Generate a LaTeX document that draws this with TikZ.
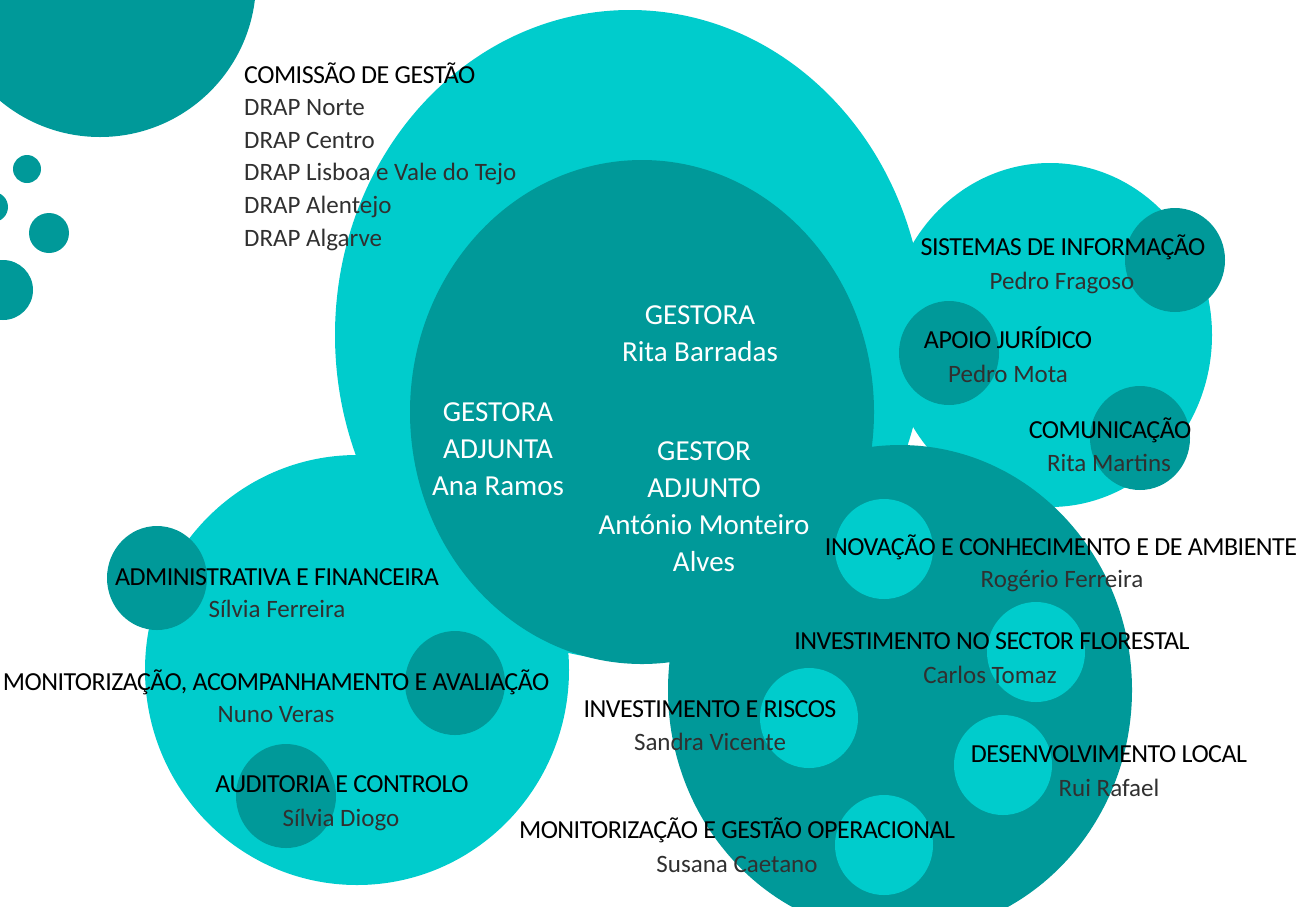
\documentclass[tikz,border=0pt]{standalone}
\usepackage{fontspec}
\setmainfont{Carlito}
\newfontfamily\headfont{Carlito}[LetterSpace=-2]
\usetikzlibrary{positioning}

\definecolor{tealdark}{HTML}{009999}
\definecolor{teallight}{HTML}{00CCCC}
\definecolor{namegray}{HTML}{303030}

\tikzset{
  head/.style={font=\headfont\fontsize{26}{30}\selectfont, text=black, inner sep=0pt, anchor=base},
  person/.style={font=\fontsize{25}{30}\selectfont, text=namegray, inner sep=0pt, anchor=base},
  boss/.style={font=\fontsize{29}{37}\selectfont, text=white, align=center, inner sep=0pt},
}

\begin{document}
\begin{tikzpicture}[x=1pt,y=-1pt]

    \useasboundingbox (0,0) rectangle (1306,906);
    \clip (0,0) rectangle (1306,906);

    % Bolhas decorativas
    \fill[tealdark] (100,-19) ellipse (156pt and 156pt);
    \foreach \cx/\cy/\r in {27/169/14, -7/207/15, 49/233/20, 3/290/30}
        \fill[tealdark] (\cx,\cy) circle (\r pt);

    % Bolhas principais
    \fill[teallight] (630,335) ellipse (295pt and 325pt);
    \fill[teallight] (1050,335) ellipse (162pt and 172pt);
    \fill[teallight] (357,670) ellipse (212pt and 215pt);
    \fill[tealdark] (642,412) ellipse (232pt and 252pt);
    \fill[tealdark] (900,690) ellipse (232pt and 245pt);

    % Bolhas pequenas
    \foreach \cx/\cy in {1175/260, 949/353, 1140/438, 157/578, 455/683, 286/796}
        \fill[tealdark] (\cx,\cy) ellipse (50pt and 52pt);
    \foreach \cx/\cy in {884/549, 1036/652, 809/718, 1003/765, 884/845}
        \fill[teallight] (\cx,\cy) ellipse (49pt and 50pt);

    % Comissao de gestao
    \node[head, anchor=base west] (comissao) at (244,83) {COMISSÃO DE GESTÃO};
    \foreach \reg [count=\i] in {Norte,Centro,Lisboa e Vale do Tejo,Alentejo,Algarve}
        \node[person, anchor=base west] (drap\i) at (244,{83+32.6*\i}) {DRAP \reg};

    % Gestao
    \node[boss] (gestora) at (700,334) {GESTORA\\Rita Barradas};
    \node[boss] (adjunta) at (498,449) {GESTORA\\ADJUNTA\\Ana Ramos};
    \node[boss] (adjunto) at (704,507) {GESTOR\\ADJUNTO\\António Monteiro\\Alves};

    % Unidades
    \node[head] (sisH) at (1063,255) {SISTEMAS DE INFORMAÇÃO};
    \node[person] (sisN) at (1062,289) {Pedro Fragoso};
    \node[head] (jurH) at (1008,348) {APOIO JURÍDICO};
    \node[person] (jurN) at (1008,382) {Pedro Mota};
    \node[head] (comH) at (1110,438) {COMUNICAÇÃO};
    \node[person] (comN) at (1109,471) {Rita Martins};
    \node[head] (inoH) at (1061,555) {INOVAÇÃO E CONHECIMENTO E DE AMBIENTE};
    \node[person] (inoN) at (1062,587) {Rogério Ferreira};
    \node[head] (florH) at (992,649) {INVESTIMENTO NO SECTOR FLORESTAL};
    \node[person] (florN) at (990,683) {Carlos Tomaz};
    \node[head] (riscH) at (710,717) {INVESTIMENTO E RISCOS};
    \node[person] (riscN) at (710,750) {Sandra Vicente};
    \node[head] (desH) at (1109,762) {DESENVOLVIMENTO LOCAL};
    \node[person] (desN) at (1109,796) {Rui Rafael};
    \node[head] (opH) at (737,838) {MONITORIZAÇÃO E GESTÃO OPERACIONAL};
    \node[person] (opN) at (737,872) {Susana Caetano};
    \node[head] (admH) at (277,585) {ADMINISTRATIVA E FINANCEIRA};
    \node[person] (admN) at (277,617) {Sílvia Ferreira};
    \node[head] (avalH) at (276,690) {MONITORIZAÇÃO, ACOMPANHAMENTO E AVALIAÇÃO};
    \node[person] (avalN) at (276,722) {Nuno Veras};
    \node[head] (audH) at (342,792) {AUDITORIA E CONTROLO};
    \node[person] (audN) at (341,826) {Sílvia Diogo};

\end{tikzpicture}
\end{document}
